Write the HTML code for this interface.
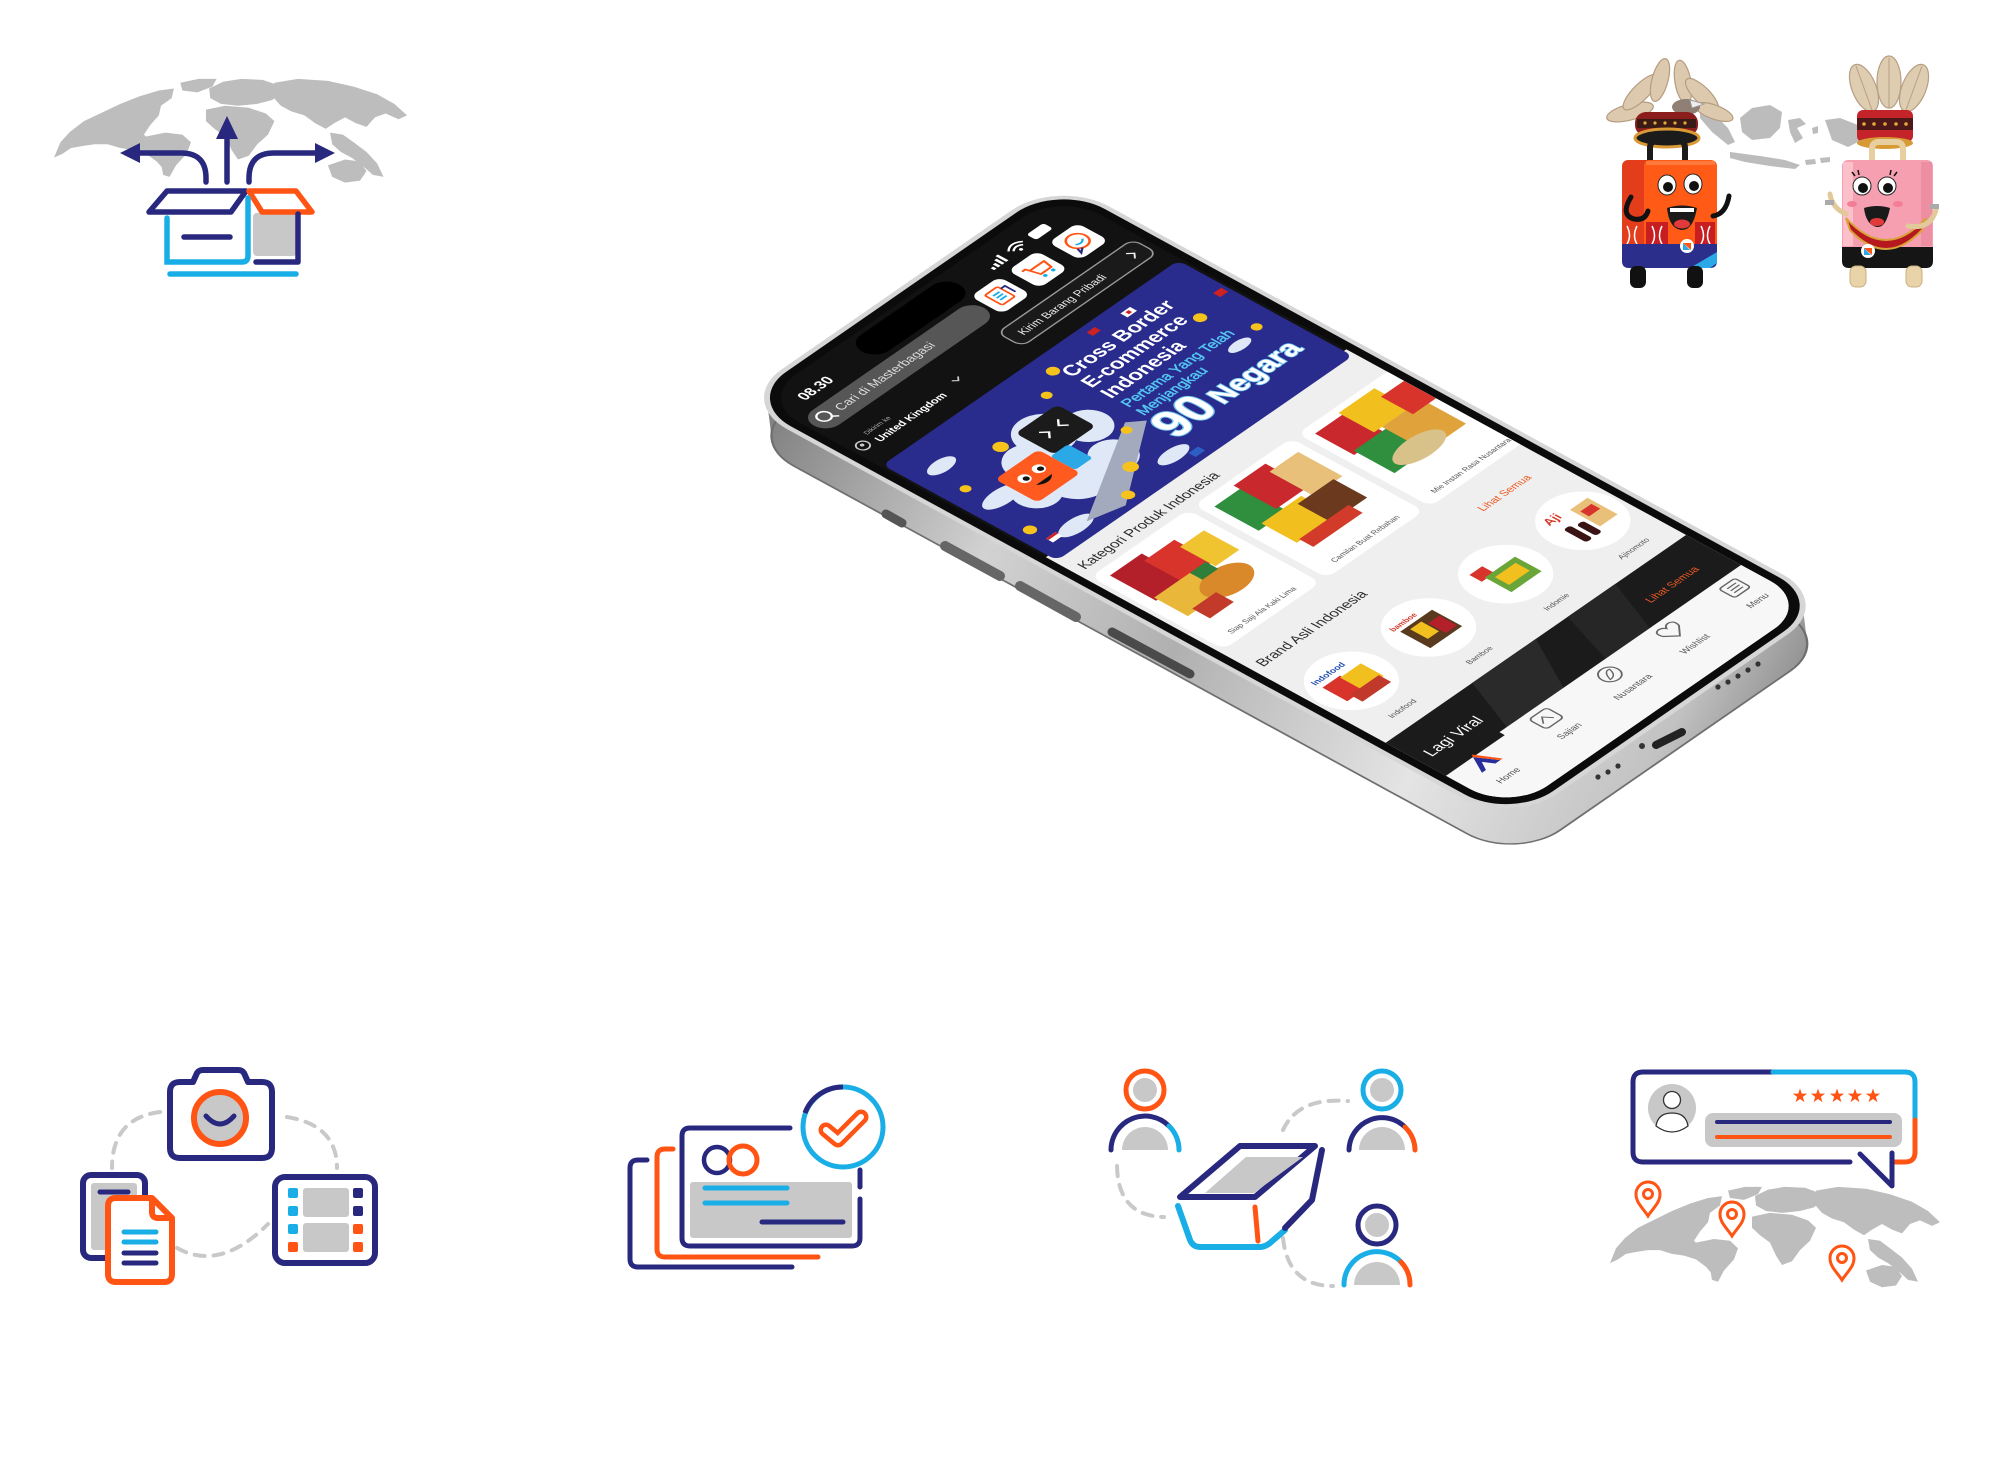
<!DOCTYPE html>
<html><head><meta charset="utf-8"><style>
html,body{margin:0;padding:0;background:#fff;}
svg{display:block;font-family:"Liberation Sans",sans-serif;}
</style></head><body>
<svg width="2002" height="1459" viewBox="0 0 2002 1459" xmlns="http://www.w3.org/2000/svg">
<defs>
<path id="wmap" d="M0,84 L6,68 L15,57 L28,46 L45,37 L62,28 L80,20 L98,14 L112,12 L110,22 L100,30 L98,40 L90,50 L84,60 L90,66 L100,72 L106,82 L112,96 L104,98 L96,88 L86,80 L74,76 L62,74 L50,70 L38,70 L26,72 L16,74 L8,80 Z M86,62 L104,58 L120,60 L128,68 L124,80 L114,92 L108,104 L102,102 L100,90 L94,80 L86,72 Z M118,6 L135,2 L152,2 L148,10 L134,16 L120,14 Z M145,12 L158,5 L175,2 L195,3 L208,8 L212,16 L204,24 L190,28 L172,30 L156,28 L146,22 Z M142,34 L160,30 L182,32 L198,38 L206,46 L200,60 L190,70 L182,82 L172,86 L166,76 L160,62 L150,54 L142,46 Z M206,6 L228,2 L256,4 L280,10 L302,18 L318,28 L330,40 L322,44 L310,38 L300,42 L292,52 L282,48 L272,42 L262,48 L254,54 L244,48 L234,40 L222,36 L212,30 L204,20 Z M258,58 L270,60 L280,68 L292,78 L302,90 L308,104 L298,102 L288,92 L278,84 L268,78 L260,70 Z M256,92 L272,86 L286,88 L292,98 L286,108 L272,110 L260,104 Z"/>
<rect id="phshape" x="0" y="0" width="400" height="870" rx="55"/>
<linearGradient id="metal" gradientUnits="userSpaceOnUse" x1="0" y1="0" x2="400" y2="870">
<stop offset="0" stop-color="#7d7d7d"/><stop offset="0.25" stop-color="#d2d2d2"/><stop offset="0.45" stop-color="#b0b0b0"/><stop offset="0.7" stop-color="#e4e4e4"/><stop offset="0.9" stop-color="#c2c2c2"/><stop offset="1" stop-color="#8a8a8a"/>
</linearGradient>
<clipPath id="scr"><rect x="11" y="11" width="378" height="848" rx="46"/></clipPath>
<path id="star" d="M0,-7.5 L1.76,-2.43 L7.13,-2.32 L2.85,0.93 L4.41,6.07 L0,3 L-4.41,6.07 L-2.85,0.93 L-7.13,-2.32 L-1.76,-2.43 Z"/>
</defs>

<!-- ============ TOP-LEFT: box with arrows over world map ============ -->
<use href="#wmap" fill="#bdbdbd" transform="translate(54,77) scale(1.07,0.96)"/>
<g fill="none" stroke="#29287f" stroke-width="5.5" stroke-linecap="round" stroke-linejoin="round">
<line x1="227" y1="182" x2="227" y2="134"/>
<path d="M206,182 L206,178 Q206,153 181,153 L134,153"/>
<path d="M249,182 L249,178 Q249,153 274,153 L318,153"/>
</g>
<g fill="#29287f">
<polygon points="227,116 216,139 238,139"/>
<polygon points="120,153 140,143 140,163"/>
<polygon points="335,153 315,143 315,163"/>
</g>
<rect x="253" y="213" width="44" height="43" rx="4" fill="#c8c8c8"/>
<polygon points="149,212 167,191 246,191 231,212" fill="#fff" stroke="#29287f" stroke-width="5.5" stroke-linejoin="round"/>
<polygon points="249,191 296,191 312,212 262,212" fill="#fff" stroke="#ff5414" stroke-width="5.5" stroke-linejoin="round"/>
<path d="M167,218 L167,262 L242,262 Q248,262 248,256 L248,198" fill="none" stroke="#1aaee6" stroke-width="5.5" stroke-linecap="round"/>
<path d="M256,262 L298,262 L298,214" fill="none" stroke="#29287f" stroke-width="5.5" stroke-linecap="round" stroke-linejoin="round"/>
<line x1="184" y1="237" x2="230" y2="237" stroke="#29287f" stroke-width="5.5" stroke-linecap="round"/>
<line x1="170" y1="274" x2="296" y2="274" stroke="#1aaee6" stroke-width="5.5" stroke-linecap="round"/>

<!-- ============ TOP-RIGHT: mascots ============ -->
<g fill="#bcbcbc">
<polygon points="1700,108 1712,112 1728,128 1735,142 1728,145 1712,132 1700,118"/>
<polygon points="1740,118 1752,108 1770,105 1782,112 1780,128 1770,138 1752,140 1742,132"/>
<polygon points="1788,120 1800,118 1806,124 1797,128 1803,138 1795,143 1790,132"/>
<polygon points="1825,120 1840,118 1858,125 1862,140 1848,147 1832,140"/>
<polygon points="1730,152 1760,156 1785,160 1800,165 1795,169 1770,166 1745,162 1730,158"/>
<polygon points="1805,160 1815,159 1816,164 1806,165"/>
<polygon points="1820,158 1830,157 1830,162 1821,163"/>
<polygon points="1812,128 1818,126 1818,133 1813,134"/>
</g>
<!-- left mascot -->
<g stroke="#b49d80" stroke-width="1.2" fill="#dcc9ae">
<ellipse cx="1630" cy="112" rx="24" ry="8" transform="rotate(-15 1630 112)"/>
<ellipse cx="1641" cy="92" rx="24" ry="8" transform="rotate(-45 1641 92)"/>
<ellipse cx="1660" cy="80" rx="22" ry="8" transform="rotate(-75 1660 80)"/>
<ellipse cx="1683" cy="82" rx="22" ry="8" transform="rotate(-100 1683 82)"/>
<ellipse cx="1702" cy="95" rx="22" ry="8" transform="rotate(-135 1702 95)"/>
<ellipse cx="1714" cy="112" rx="20" ry="7" transform="rotate(-160 1714 112)"/>
</g>
<ellipse cx="1686" cy="107" rx="14" ry="8" fill="#8f7f74"/>
<path d="M1690,100 L1704,104 L1692,108 Z" fill="#eee" stroke="#999" stroke-width="0.8"/>
<rect x="1635" y="112" width="63" height="24" rx="11" fill="#8b1d1d"/>
<rect x="1637" y="119" width="59" height="9" fill="#3a1a14"/>
<g fill="#e3a93a"><circle cx="1645" cy="123" r="1.6"/><circle cx="1655" cy="123" r="1.6"/><circle cx="1665" cy="123" r="1.6"/><circle cx="1675" cy="123" r="1.6"/><circle cx="1685" cy="123" r="1.6"/></g>
<ellipse cx="1667" cy="138" rx="32" ry="9" fill="#1b1b1b" stroke="#d99a35" stroke-width="3"/>
<path d="M1650,162 L1650,148 Q1650,141 1657,141 L1678,141 Q1685,141 1685,148 L1685,162" fill="none" stroke="#1b1b1b" stroke-width="6"/>
<rect x="1622" y="160" width="34" height="107" rx="6" fill="#e33d1c"/>
<rect x="1644" y="160" width="73" height="107" rx="6" fill="#ff5b16"/>
<rect x="1646" y="161" width="69" height="4" fill="#ff7a3a"/>
<rect x="1646" y="222" width="22" height="26" fill="#c81e22"/>
<rect x="1695" y="222" width="20" height="26" fill="#c81e22"/>
<g fill="none" stroke="#fff" stroke-width="1.5"><path d="M1652,226 Q1657,236 1652,244 M1662,226 Q1657,236 1662,244 M1701,226 Q1706,236 1701,244 M1710,226 Q1705,236 1710,244 M1627,226 Q1632,236 1627,244 M1637,226 Q1632,236 1637,244"/></g>
<path d="M1622,244 L1717,244 L1717,261 Q1717,268 1710,268 L1629,268 Q1622,268 1622,261 Z" fill="#2c2e8c"/>
<polygon points="1690,268 1717,252 1717,263 1710,268" fill="#2aa9e6"/>
<ellipse cx="1667" cy="185" rx="9" ry="10" fill="#fff" stroke="#222" stroke-width="1"/>
<ellipse cx="1693" cy="184" rx="9" ry="10" fill="#fff" stroke="#222" stroke-width="1"/>
<circle cx="1668" cy="187" r="5" fill="#111"/><circle cx="1694" cy="186" r="5" fill="#111"/>
<path d="M1667,208 Q1682,203 1697,208 Q1693,231 1681,230 Q1669,228 1667,208 Z" fill="#1a1a1a"/>
<rect x="1670" y="208" width="24" height="4" fill="#fff"/>
<ellipse cx="1682" cy="224" rx="8" ry="4.5" fill="#e23a3a"/>
<path d="M1631,197 Q1620,215 1634,219 Q1645,221 1648,211" fill="none" stroke="#111" stroke-width="5" stroke-linecap="round"/>
<path d="M1713,216 Q1726,214 1729,196" fill="none" stroke="#111" stroke-width="5" stroke-linecap="round"/>
<circle cx="1687" cy="246" r="7" fill="#fff"/>
<path d="M1683,243 L1691,243 L1691,250 Z" fill="#ff5414"/><path d="M1683,243 L1683,250 L1690,250 Z" fill="#2aa9e6"/>
<rect x="1630" y="266" width="16" height="22" rx="6" fill="#111"/>
<rect x="1687" y="266" width="16" height="22" rx="6" fill="#111"/>
<!-- right mascot -->
<g fill="#dfcdb2" stroke="#b69f83" stroke-width="1.2">
<ellipse cx="1864" cy="88" rx="12" ry="25" transform="rotate(-22 1864 88)"/>
<ellipse cx="1889" cy="82" rx="12" ry="26"/>
<ellipse cx="1914" cy="88" rx="12" ry="25" transform="rotate(22 1914 88)"/>
</g>
<g stroke="#b69f83" stroke-width="1"><line x1="1872" y1="110" x2="1856" y2="66"/><line x1="1889" y1="108" x2="1889" y2="58"/><line x1="1906" y1="110" x2="1922" y2="66"/></g>
<rect x="1857" y="110" width="56" height="32" rx="6" fill="#c4232a"/>
<rect x="1857" y="118" width="56" height="12" fill="#4e1818"/>
<g fill="#e3a93a"><circle cx="1864" cy="124" r="1.8"/><circle cx="1874" cy="124" r="1.8"/><circle cx="1885" cy="124" r="1.8"/><circle cx="1896" cy="124" r="1.8"/><circle cx="1906" cy="124" r="1.8"/></g>
<ellipse cx="1885" cy="143" rx="28" ry="6" fill="#d89a35"/>
<path d="M1872,163 L1872,149 Q1872,142 1879,142 L1896,142 Q1903,142 1903,149 L1903,163" fill="none" stroke="#e7cf9f" stroke-width="6"/>
<rect x="1842" y="160" width="91" height="107" rx="6" fill="#f59fb0"/>
<rect x="1843" y="162" width="10" height="84" fill="#fbc0c9"/>
<rect x="1921" y="162" width="11" height="84" fill="#ee8ea2"/>
<path d="M1842,247 L1933,247 L1933,261 Q1933,268 1926,268 L1849,268 Q1842,268 1842,261 Z" fill="#151515"/>
<path d="M1846,218 Q1886,262 1926,218 L1922,230 Q1886,268 1850,230 Z" fill="#b5191e" stroke="#d9a33a" stroke-width="2"/>
<circle cx="1862" cy="186" r="9" fill="#fff" stroke="#222" stroke-width="1"/><circle cx="1887" cy="186" r="9" fill="#fff" stroke="#222" stroke-width="1"/>
<circle cx="1863" cy="188" r="5" fill="#111"/><circle cx="1888" cy="188" r="5" fill="#111"/>
<path d="M1855,176 L1852,172 M1859,175 L1858,170 M1894,176 L1897,172 M1890,175 L1891,170" stroke="#111" stroke-width="1.5"/>
<ellipse cx="1852" cy="204" rx="5" ry="3" fill="#f27d95"/><ellipse cx="1898" cy="204" rx="5" ry="3" fill="#f27d95"/>
<path d="M1864,208 Q1877,204 1890,208 Q1886,228 1877,227 Q1866,225 1864,208 Z" fill="#1a1a1a"/>
<ellipse cx="1877" cy="222" rx="7" ry="4" fill="#e23a3a"/>
<path d="M1846,214 Q1832,208 1830,194" fill="none" stroke="#e2c99a" stroke-width="5" stroke-linecap="round"/>
<path d="M1908,226 Q1930,230 1936,210" fill="none" stroke="#e2c99a" stroke-width="5" stroke-linecap="round"/>
<rect x="1825" y="200" width="9" height="5" fill="#aaa"/><rect x="1930" y="204" width="9" height="5" fill="#aaa"/>
<circle cx="1868" cy="251" r="7" fill="#fff"/>
<path d="M1864,248 L1872,248 L1872,255 Z" fill="#ff5414"/><path d="M1864,248 L1864,255 L1871,255 Z" fill="#2aa9e6"/>
<rect x="1850" y="266" width="16" height="21" rx="6" fill="#e9d3a8" stroke="#c9b080"/>
<rect x="1906" y="266" width="16" height="21" rx="6" fill="#e9d3a8" stroke="#c9b080"/>

<!-- ============ PHONE ============ -->
<g fill="url(#metal)">
<use href="#phshape" transform="translate(0,2) matrix(0.795,-0.55,0.887,0.4845,740,401)"/>
<use href="#phshape" transform="translate(0.5,6) matrix(0.795,-0.55,0.887,0.4845,740,401)"/>
<use href="#phshape" transform="translate(1,10) matrix(0.795,-0.55,0.887,0.4845,740,401)"/>
<use href="#phshape" transform="translate(1.5,14) matrix(0.795,-0.55,0.887,0.4845,740,401)"/>
<use href="#phshape" transform="translate(2,18) matrix(0.795,-0.55,0.887,0.4845,740,401)"/>
<use href="#phshape" transform="translate(2.5,22) matrix(0.795,-0.55,0.887,0.4845,740,401)"/>
<use href="#phshape" transform="translate(3,26) matrix(0.795,-0.55,0.887,0.4845,740,401)"/>
<use href="#phshape" transform="translate(3.5,30) matrix(0.795,-0.55,0.887,0.4845,740,401)"/>
<use href="#phshape" transform="translate(4,34) matrix(0.795,-0.55,0.887,0.4845,740,401)"/>
<use href="#phshape" transform="translate(4.5,38) matrix(0.795,-0.55,0.887,0.4845,740,401)" stroke="#6f6f6f" stroke-width="2"/>
</g>
<!-- side buttons -->
<g stroke-linecap="round">
<line x1="886" y1="514" x2="902" y2="523" stroke="#555" stroke-width="9"/>
<line x1="945" y1="546" x2="1000" y2="576" stroke="#666" stroke-width="10"/>
<line x1="1020" y1="586" x2="1076" y2="617" stroke="#666" stroke-width="10"/>
<line x1="1112" y1="632" x2="1190" y2="674" stroke="#4a4a4a" stroke-width="9"/>
</g>
<!-- bottom port / speakers -->
<g fill="#333">
<circle cx="1598" cy="777" r="2.6"/><circle cx="1608" cy="772" r="2.6"/><circle cx="1618" cy="766" r="2.6"/>
<circle cx="1642" cy="746" r="3"/>
<circle cx="1718" cy="687" r="2.6"/><circle cx="1728" cy="682" r="2.6"/><circle cx="1738" cy="676" r="2.6"/><circle cx="1748" cy="670" r="2.6"/><circle cx="1758" cy="664" r="2.6"/>
</g>
<line x1="1656" y1="745" x2="1682" y2="732" stroke="#222" stroke-width="8" stroke-linecap="round"/>

<g transform="matrix(0.795,-0.55,0.887,0.4845,740,401)">
<rect x="0" y="0" width="400" height="870" rx="55" fill="#0b0b0b" stroke="#d6d6d6" stroke-width="5"/>
<g clip-path="url(#scr)">
<rect x="0" y="0" width="400" height="870" fill="#121212"/>
<rect x="0" y="335" width="400" height="540" fill="#efefef"/>
<!-- status bar -->
<text x="36" y="41" font-size="15" font-weight="bold" fill="#fff">08.30</text>
<rect x="118" y="16" width="122" height="32" rx="16" fill="#000"/>
<g fill="#fff"><rect x="274" y="37" width="3" height="4"/><rect x="279" y="35" width="3" height="6"/><rect x="284" y="32" width="3" height="9"/><rect x="289" y="29" width="3" height="12"/></g>
<path d="M301,33 Q310,25 319,33 M304,36 Q310,31 316,36" fill="none" stroke="#fff" stroke-width="2"/><circle cx="310" cy="39" r="1.8" fill="#fff"/>
<rect x="328" y="29" width="21" height="11" rx="3" fill="#fff"/>
<!-- search -->
<rect x="16" y="54" width="214" height="30" rx="15" fill="#565656"/>
<circle cx="31" cy="67" r="6.5" fill="none" stroke="#fff" stroke-width="2"/>
<line x1="36" y1="72" x2="40" y2="76" stroke="#fff" stroke-width="2"/>
<text x="46" y="73" font-size="13" fill="#dedede">Cari di Masterbagasi</text>
<rect x="234" y="50" width="36" height="36" rx="8" fill="#fff"/>
<rect x="243" y="58" width="16" height="20" rx="2" fill="none" stroke="#ff5414" stroke-width="2"/>
<path d="M247,64 L255,64 M247,68 L255,68 M247,72 L255,72" stroke="#1aaee6" stroke-width="2"/>
<path d="M259,62 L264,62 L264,74" fill="none" stroke="#29287f" stroke-width="2"/>
<rect x="281" y="50" width="36" height="36" rx="8" fill="#fff"/>
<path d="M288,60 L292,60 L296,74 L309,74 L311,64 L294,64" fill="none" stroke="#ff5414" stroke-width="2.2" stroke-linejoin="round"/>
<circle cx="297" cy="78" r="2" fill="#1aaee6"/><circle cx="307" cy="78" r="2" fill="#1aaee6"/>
<rect x="332" y="50" width="36" height="36" rx="8" fill="#fff"/>
<circle cx="350" cy="67" r="10" fill="none" stroke="#ff5414" stroke-width="2.2"/>
<path d="M345,69 Q350,73 355,68" fill="none" stroke="#1aaee6" stroke-width="2"/>
<path d="M342,74 L340,80 L346,76" fill="none" stroke="#29287f" stroke-width="2"/>
<!-- deliver row -->
<circle cx="23" cy="118" r="6" fill="none" stroke="#ccc" stroke-width="1.6"/><circle cx="23" cy="117" r="2" fill="#ccc"/>
<text x="36" y="111" font-size="7" fill="#aaa">Dikirim ke</text>
<text x="36" y="126" font-size="11" font-weight="bold" fill="#fff">United Kingdom</text>
<path d="M138,115 L142,119 L146,115" fill="none" stroke="#ccc" stroke-width="1.5"/>
<rect x="212" y="100" width="170" height="28" rx="9" fill="#1a1a1a" stroke="#9a9a9a" stroke-width="1.5"/>
<text x="224" y="119" font-size="11.5" fill="#eee">Kirim Barang Pribadi</text>
<path d="M364,109 L369,114 L364,119" fill="none" stroke="#eee" stroke-width="1.6"/>
<!-- banner -->
<rect x="14" y="148" width="372" height="197" rx="8" fill="#292b8d"/>
<g fill="#dfe8f6">
<circle cx="100" cy="240" r="26"/><circle cx="135" cy="222" r="28"/><circle cx="168" cy="242" r="22"/><circle cx="110" cy="282" r="30"/><circle cx="72" cy="270" r="22"/><circle cx="152" cy="285" r="22"/>
<ellipse cx="48" cy="252" rx="22" ry="10"/><ellipse cx="46" cy="186" rx="16" ry="8"/><ellipse cx="186" cy="322" rx="18" ry="8"/><ellipse cx="334" cy="264" rx="13" ry="6"/><ellipse cx="60" cy="325" rx="20" ry="9"/>
</g>
<polygon points="70,328 192,262 206,274 108,338" fill="#a3aabd"/>
<rect x="120" y="203" width="52" height="44" rx="6" fill="#1b1b1b"/>
<path d="M134,217 L140,223 L134,229 M158,217 L152,223 L158,229" fill="none" stroke="#fff" stroke-width="2"/>
<rect x="62" y="232" width="54" height="48" rx="6" fill="#ff5a1f"/>
<circle cx="79" cy="250" r="6" fill="#fff"/><circle cx="97" cy="250" r="6" fill="#fff"/><circle cx="80" cy="251" r="3" fill="#111"/><circle cx="98" cy="251" r="3" fill="#111"/>
<path d="M79,263 Q89,272 99,263" fill="#111"/>
<rect x="116" y="246" width="22" height="28" rx="3" fill="#2aa9e6"/>
<g fill="#f6c21c">
<circle cx="204" cy="170" r="6"/><circle cx="340" cy="214" r="6"/><circle cx="362" cy="258" r="5"/><circle cx="150" cy="306" r="7"/><circle cx="36" cy="222" r="5"/><circle cx="176" cy="188" r="5"/><circle cx="120" cy="330" r="6"/><circle cx="98" cy="206" r="7"/><circle cx="30" cy="300" r="6"/><circle cx="185" cy="270" r="5"/>
</g>
<g><rect x="30" y="318" width="12" height="8" fill="#fff"/><rect x="30" y="318" width="12" height="3" fill="#c22"/><rect x="300" y="160" width="12" height="8" fill="#fff"/><rect x="304" y="162" width="4" height="4" fill="#c22"/><rect x="372" y="200" width="10" height="8" fill="#c22"/><rect x="196" y="330" width="12" height="8" fill="#2d5ec4"/><rect x="262" y="156" width="10" height="7" fill="#c22"/></g>
<g font-weight="bold" fill="#fff">
<text x="208" y="188" font-size="20.5">Cross Border</text>
<text x="208" y="210" font-size="20.5">E-commerce</text>
<text x="208" y="232" font-size="20.5">Indonesia</text>
</g>
<text x="209" y="251" font-size="15" fill="#54c6f2" stroke="#54c6f2" stroke-width="0.5">Pertama Yang Telah</text>
<text x="209" y="268" font-size="15" fill="#54c6f2" stroke="#54c6f2" stroke-width="0.5">Menjangkau</text>
<text x="203" y="310" font-size="50" font-weight="bold" fill="#fff" stroke="#6fc6f0" stroke-width="2.5" paint-order="stroke">90</text>
<text x="264" y="308" font-size="30" font-weight="bold" fill="#fff" stroke="#6fc6f0" stroke-width="2" paint-order="stroke">Negara</text>
<!-- Kategori -->
<text x="20" y="371" font-size="14.5" fill="#2b2b2b">Kategori Produk Indonesia</text>
<rect x="16" y="381" width="122" height="150" rx="10" fill="#fff"/>
<rect x="146" y="381" width="122" height="150" rx="10" fill="#fff"/>
<rect x="276" y="381" width="122" height="150" rx="10" fill="#fff"/>
<rect x="28" y="392" width="40" height="52" fill="#b3202a"/><rect x="62" y="400" width="38" height="44" fill="#d8342c"/><rect x="96" y="410" width="30" height="40" fill="#f0c330"/><rect x="30" y="440" width="45" height="38" fill="#e9b83a"/><ellipse cx="88" cy="470" rx="28" ry="18" fill="#d9882a"/><rect x="40" y="474" width="30" height="20" fill="#c23a2a"/><rect x="75" y="440" width="20" height="14" fill="#2f7f3a"/>
<rect x="156" y="395" width="36" height="50" fill="#2f8f3e"/><rect x="188" y="388" width="40" height="48" fill="#c9282d"/><rect x="222" y="398" width="36" height="50" fill="#e8c07a"/><rect x="165" y="440" width="50" height="40" fill="#f2c01e"/><rect x="205" y="445" width="45" height="38" fill="#6b3a1e"/><rect x="170" y="478" width="62" height="16" fill="#d23b2a"/>
<rect x="286" y="392" width="40" height="44" fill="#c9282d"/><rect x="320" y="388" width="45" height="40" fill="#f2c01e"/><rect x="290" y="432" width="42" height="46" fill="#2f8f3e"/><rect x="330" y="428" width="50" height="50" fill="#e0a23a"/><ellipse cx="330" cy="470" rx="30" ry="14" fill="#d9c28a"/><rect x="360" y="400" width="30" height="36" fill="#d8342c"/>
<g font-size="8" fill="#555" text-anchor="middle"><text x="77" y="522">Siap Saji Ala Kaki Lima</text><text x="207" y="522">Camilan Buat Rebahan</text><text x="340" y="522">Mie Instan Rasa Nusantara</text></g>
<!-- Brand -->
<text x="20" y="572" font-size="14.5" fill="#2b2b2b">Brand Asli Indonesia</text>
<text x="300" y="569" font-size="11" fill="#ee5a24">Lihat Semua</text>
<g fill="#fff"><circle cx="55" cy="640" r="40"/><circle cx="152" cy="640" r="40"/><circle cx="249" cy="640" r="40"/><circle cx="346" cy="640" r="40"/></g>
<text x="30" y="622" font-size="9" font-weight="bold" fill="#1f4fb0">Indofood</text>
<rect x="32" y="628" width="22" height="28" fill="#d8342c"/><rect x="52" y="630" width="26" height="26" fill="#f2c01e"/><rect x="40" y="652" width="36" height="14" fill="#c0392b"/>
<text x="128" y="622" font-size="8" font-weight="bold" fill="#d23b2a">bamboe</text>
<rect x="132" y="626" width="40" height="34" fill="#5a3a1e"/><rect x="140" y="630" width="14" height="20" fill="#f2c01e"/><rect x="156" y="636" width="14" height="20" fill="#b3202a"/>
<rect x="228" y="618" width="16" height="14" fill="#d8342c"/><rect x="234" y="630" width="38" height="30" fill="#6aa53a"/><rect x="240" y="636" width="26" height="16" fill="#f2c01e"/>
<text x="322" y="624" font-size="13" font-weight="bold" fill="#d23b2a">Aji</text>
<rect x="326" y="636" width="8" height="26" rx="3" fill="#3a1414"/><rect x="338" y="640" width="8" height="22" rx="3" fill="#3a1414"/><rect x="350" y="622" width="22" height="34" fill="#e9c07a"/><rect x="354" y="630" width="14" height="10" fill="#d8342c"/>
<g font-size="8" fill="#555" text-anchor="middle"><text x="55" y="700">Indofood</text><text x="152" y="700">Bamboe</text><text x="249" y="700">Indomie</text><text x="346" y="700">Ajinomoto</text></g>
<!-- Lagi viral band -->
<rect x="0" y="718" width="400" height="72" fill="#1b1b1b"/>
<polygon points="120,718 200,718 160,790 90,790" fill="#2a2a2a"/>
<polygon points="240,718 300,718 270,790 215,790" fill="#262626"/>
<text x="22" y="760" font-size="16" fill="#fff">Lagi Viral</text>
<text x="300" y="758" font-size="11" fill="#ee5a24">Lihat Semua</text>
<!-- bottom nav -->
<path d="M0,786 L85,786 L85,780 L400,780 L400,875 L0,875 Z" fill="#f7f7f7"/>
<path d="M34,806 L45,786 L57,806 L51,806 L45,796 L39,806 Z" fill="#2a2e9a"/><path d="M45,786 L57,806 L60,806 L47,783 Z" fill="#ff5414"/>
<rect x="114" y="787" width="22" height="20" rx="4" fill="none" stroke="#666" stroke-width="1.6"/><path d="M118,800 L124,793 L130,801" fill="none" stroke="#666" stroke-width="1.4"/>
<circle cx="205" cy="797" r="10" fill="none" stroke="#666" stroke-width="1.6"/><path d="M200,802 Q204,790 210,792 Q208,802 200,802 Z" fill="none" stroke="#666" stroke-width="1.3"/>
<path d="M283,806 L273,796 Q270,788 277,787 Q281,787 283,791 Q285,787 289,787 Q296,788 293,796 Z" fill="none" stroke="#666" stroke-width="1.6"/>
<rect x="352" y="788" width="20" height="18" rx="3" fill="none" stroke="#666" stroke-width="1.6"/><path d="M357,793 L368,793 M357,797 L368,797 M357,801 L368,801" stroke="#666" stroke-width="1.4"/>
<g font-size="9.5" fill="#555" text-anchor="middle"><text x="46" y="828">Home</text><text x="125" y="826">Sajian</text><text x="205" y="826">Nusantara</text><text x="283" y="826">Wishlist</text><text x="362" y="826">Menu</text></g>
</g>
</g>

<!-- ============ BOTTOM ICON 1: camera / docs / film ============ -->
<g fill="none" stroke="#c9c9c9" stroke-width="4" stroke-dasharray="10 9" stroke-linecap="round">
<path d="M160,1112 Q112,1118 112,1168"/>
<path d="M287,1117 Q337,1125 337,1168"/>
<path d="M177,1248 Q220,1272 268,1224"/>
</g>
<path d="M180,1082 L193,1082 L197,1073 Q199,1070 203,1070 L238,1070 Q242,1070 244,1073 L248,1082 L262,1082 Q272,1082 272,1092 L272,1148 Q272,1158 262,1158 L180,1158 Q170,1158 170,1148 L170,1092 Q170,1082 180,1082 Z" fill="#fff" stroke="#29287f" stroke-width="6" stroke-linejoin="round"/>
<circle cx="220" cy="1118" r="26" fill="#c8c8c8" stroke="#ff5414" stroke-width="6"/>
<path d="M206,1116 Q220,1132 234,1116" fill="none" stroke="#29287f" stroke-width="5" stroke-linecap="round"/>
<rect x="83" y="1175" width="62" height="83" rx="8" fill="#fff" stroke="#29287f" stroke-width="6"/>
<rect x="91" y="1183" width="46" height="67" rx="3" fill="#c8c8c8"/>
<line x1="100" y1="1192" x2="128" y2="1192" stroke="#29287f" stroke-width="5" stroke-linecap="round"/>
<path d="M116,1198 L152,1198 L172,1218 L172,1274 Q172,1282 164,1282 L116,1282 Q108,1282 108,1274 L108,1206 Q108,1198 116,1198 Z" fill="#fff" stroke="#ff5414" stroke-width="6" stroke-linejoin="round"/>
<path d="M152,1198 L152,1212 Q152,1218 158,1218 L172,1218" fill="none" stroke="#ff5414" stroke-width="6" stroke-linejoin="round"/>
<g stroke-width="5" stroke-linecap="round"><line x1="124" y1="1232" x2="156" y2="1232" stroke="#1aaee6"/><line x1="124" y1="1242" x2="156" y2="1242" stroke="#1aaee6"/><line x1="124" y1="1253" x2="156" y2="1253" stroke="#29287f"/><line x1="124" y1="1263" x2="156" y2="1263" stroke="#29287f"/></g>
<rect x="275" y="1177" width="100" height="86" rx="10" fill="#fff" stroke="#29287f" stroke-width="6"/>
<rect x="303" y="1188" width="46" height="29" rx="3" fill="#c8c8c8"/><rect x="303" y="1223" width="46" height="29" rx="3" fill="#c8c8c8"/>
<g><rect x="288" y="1188" width="10" height="10" rx="2" fill="#1aaee6"/><rect x="288" y="1206" width="10" height="10" rx="2" fill="#1aaee6"/><rect x="288" y="1224" width="10" height="10" rx="2" fill="#1aaee6"/><rect x="288" y="1242" width="10" height="10" rx="2" fill="#ff5414"/>
<rect x="353" y="1188" width="10" height="10" rx="2" fill="#29287f"/><rect x="353" y="1206" width="10" height="10" rx="2" fill="#29287f"/><rect x="353" y="1224" width="10" height="10" rx="2" fill="#ff5414"/><rect x="353" y="1242" width="10" height="10" rx="2" fill="#ff5414"/></g>

<!-- ============ BOTTOM ICON 2: cards + check ============ -->
<g fill="none" stroke-width="5" stroke-linecap="round" stroke-linejoin="round">
<path d="M647,1160 L638,1160 Q630,1160 630,1168 L630,1259 Q630,1267 638,1267 L792,1267" stroke="#29287f"/>
<path d="M673,1149 L665,1149 Q657,1149 657,1157 L657,1249 Q657,1257 665,1257 L818,1257" stroke="#ff5414"/>
</g>
<rect x="690" y="1182" width="162" height="56" rx="3" fill="#c8c8c8"/>
<g fill="none" stroke="#29287f" stroke-width="5" stroke-linecap="round" stroke-linejoin="round">
<path d="M790,1128 L690,1128 Q682,1128 682,1136 L682,1238 Q682,1246 690,1246 L852,1246 Q860,1246 860,1238 L860,1199"/>
<path d="M860,1187 L860,1170"/>
</g>
<g stroke-width="5" stroke-linecap="round"><line x1="705" y1="1188" x2="787" y2="1188" stroke="#1aaee6"/><line x1="705" y1="1203" x2="787" y2="1203" stroke="#1aaee6"/><line x1="762" y1="1222" x2="843" y2="1222" stroke="#29287f"/></g>
<circle cx="717" cy="1160" r="13" fill="none" stroke="#29287f" stroke-width="4.5"/>
<circle cx="743" cy="1160" r="14" fill="none" stroke="#ff5414" stroke-width="5"/>
<circle cx="843" cy="1127" r="40" fill="#fff" stroke="#1aaee6" stroke-width="5"/>
<path d="M805,1113 A40,40 0 0 1 843,1087" fill="none" stroke="#29287f" stroke-width="5"/>
<path d="M826,1130 L838,1140 L861,1117" fill="none" stroke="#ff5414" stroke-width="15" stroke-linecap="round" stroke-linejoin="round"/>
<path d="M826,1130 L838,1140 L861,1117" fill="none" stroke="#fff" stroke-width="6" stroke-linecap="round" stroke-linejoin="round"/>

<!-- ============ BOTTOM ICON 3: people + box ============ -->
<g fill="none" stroke="#c9c9c9" stroke-width="4" stroke-dasharray="10 9" stroke-linecap="round">
<path d="M1117,1166 Q1118,1216 1164,1217"/>
<path d="M1283,1130 Q1298,1097 1348,1101"/>
<path d="M1283,1238 Q1288,1286 1333,1286"/>
</g>
<g>
<path d="M1122,1150 A23,23 0 0 1 1168,1150 Z" fill="#c8c8c8"/>
<circle cx="1145" cy="1090" r="12" fill="#c8c8c8"/>
<circle cx="1145" cy="1090" r="19" fill="none" stroke="#ff5414" stroke-width="5"/>
<path d="M1111,1150 A34,34 0 0 1 1169,1126" fill="none" stroke="#29287f" stroke-width="5" stroke-linecap="round"/>
<path d="M1169,1126 A34,34 0 0 1 1179,1150" fill="none" stroke="#1aaee6" stroke-width="5" stroke-linecap="round"/>
<path d="M1359,1150 A23,23 0 0 1 1405,1150 Z" fill="#c8c8c8"/>
<circle cx="1382" cy="1090" r="12" fill="#c8c8c8"/>
<circle cx="1382" cy="1090" r="19" fill="none" stroke="#1aaee6" stroke-width="5"/>
<path d="M1349,1150 A33,33 0 0 1 1405,1127" fill="none" stroke="#29287f" stroke-width="5" stroke-linecap="round"/>
<path d="M1405,1127 A33,33 0 0 1 1415,1150" fill="none" stroke="#ff5414" stroke-width="5" stroke-linecap="round"/>
<path d="M1354,1285 A23,23 0 0 1 1400,1285 Z" fill="#c8c8c8"/>
<circle cx="1377" cy="1225" r="12" fill="#c8c8c8"/>
<circle cx="1377" cy="1225" r="19" fill="none" stroke="#29287f" stroke-width="5"/>
<path d="M1344,1285 A33,33 0 0 1 1401,1262" fill="none" stroke="#1aaee6" stroke-width="5" stroke-linecap="round"/>
<path d="M1401,1262 A33,33 0 0 1 1410,1285" fill="none" stroke="#ff5414" stroke-width="5" stroke-linecap="round"/>
</g>
<polygon points="1180,1197 1240,1146 1315,1146 1255,1197" fill="#fff" stroke="#29287f" stroke-width="6" stroke-linejoin="round"/>
<polygon points="1205,1193 1246,1157 1303,1157 1254,1193" fill="#c8c8c8"/>
<path d="M1178,1206 L1190,1240 Q1193,1247 1200,1247 L1260,1247 Q1265,1247 1270,1243 L1285,1230" fill="none" stroke="#1aaee6" stroke-width="6" stroke-linecap="round" stroke-linejoin="round"/>
<path d="M1322,1150 L1312,1200 L1285,1228" fill="none" stroke="#29287f" stroke-width="6" stroke-linecap="round" stroke-linejoin="round"/>
<line x1="1255" y1="1207" x2="1258" y2="1241" stroke="#ff5414" stroke-width="5" stroke-linecap="round"/>

<!-- ============ BOTTOM ICON 4: review + map ============ -->
<use href="#wmap" fill="#bdbdbd" transform="translate(1610,1185) scale(1,0.93)"/>
<g fill="none" stroke-width="5" stroke-linecap="round" stroke-linejoin="round">
<path d="M1773,1072 L1643,1072 Q1633,1072 1633,1082 L1633,1152 Q1633,1162 1643,1162 L1850,1162" stroke="#29287f"/>
<path d="M1773,1072 L1905,1072 Q1915,1072 1915,1082 L1915,1120" stroke="#1aaee6"/>
<path d="M1915,1120 L1915,1152 Q1915,1162 1905,1162 L1893,1162" stroke="#ff5414"/>
<path d="M1860,1154 L1892,1186 L1892,1153" stroke="#29287f"/>
</g>
<circle cx="1672" cy="1108" r="24" fill="#c8c8c8"/>
<path d="M1656,1126 Q1658,1113 1672,1113 Q1686,1113 1688,1126 Q1680,1132 1672,1132 Q1664,1132 1656,1126 Z" fill="#fff" stroke="#333" stroke-width="1.3"/>
<circle cx="1672" cy="1100" r="8.5" fill="#fff" stroke="#333" stroke-width="1.3"/>
<g fill="#ff5414"><use href="#star" transform="translate(1800,1096)"/><use href="#star" transform="translate(1818,1096)"/><use href="#star" transform="translate(1837,1096)"/><use href="#star" transform="translate(1855,1096)"/><use href="#star" transform="translate(1873,1096)"/></g>
<rect x="1705" y="1113" width="197" height="34" rx="8" fill="#c8c8c8"/>
<line x1="1717" y1="1122" x2="1890" y2="1122" stroke="#29287f" stroke-width="4" stroke-linecap="round"/>
<line x1="1717" y1="1137" x2="1890" y2="1137" stroke="#ff5414" stroke-width="4" stroke-linecap="round"/>
<g fill="#fff" stroke="#ff5414" stroke-width="3">
<path d="M1648,1216 C1643,1208 1636,1203 1636,1194 A12,12 0 1 1 1660,1194 C1660,1203 1653,1208 1648,1216 Z"/>
<path d="M1732,1236 C1727,1228 1720,1223 1720,1214 A12,12 0 1 1 1744,1214 C1744,1223 1737,1228 1732,1236 Z"/>
<path d="M1842,1280 C1837,1272 1830,1267 1830,1258 A12,12 0 1 1 1854,1258 C1854,1267 1847,1272 1842,1280 Z"/>
<circle cx="1648" cy="1194" r="4.5"/><circle cx="1732" cy="1214" r="4.5"/><circle cx="1842" cy="1258" r="4.5"/>
</g>
</svg>
</body></html>
